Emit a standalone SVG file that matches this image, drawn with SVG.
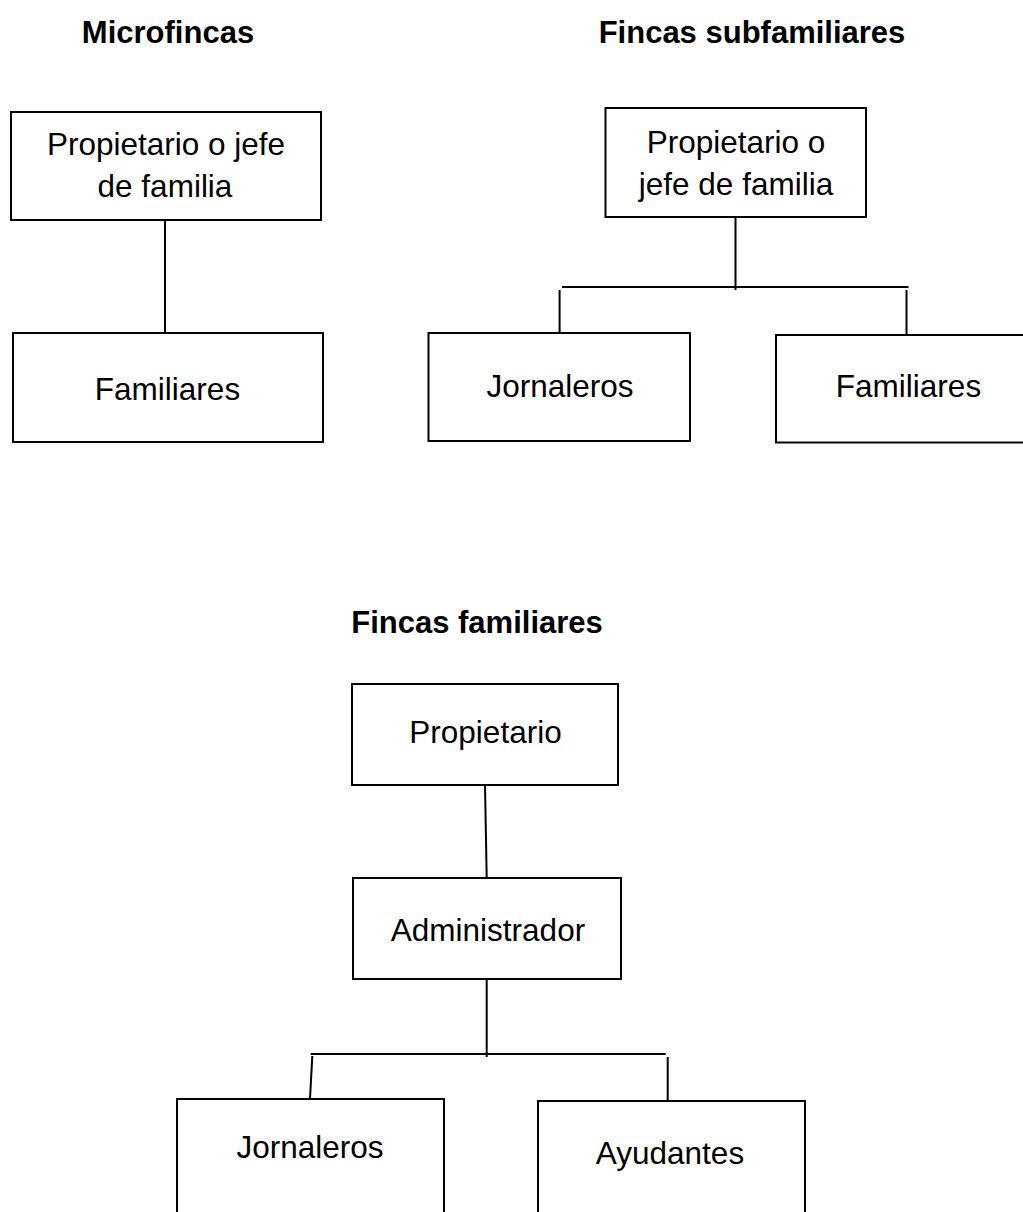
<svg xmlns="http://www.w3.org/2000/svg" width="1023" height="1212" viewBox="0 0 1023 1212">
  <style>
    .box { fill: #ffffff; stroke: #000000; stroke-width: 2; }
    .link { fill: none; stroke: #000000; stroke-width: 2; }
    .lbl { font-family: "Liberation Sans", Arial, sans-serif; font-size: 31.5px; fill: #000000; text-anchor: middle; }
    .ttl { font-family: "Liberation Sans", Arial, sans-serif; font-size: 31px; font-weight: bold; fill: #000000; text-anchor: middle; }
  </style>
  <rect width="1023" height="1212" fill="#ffffff"/>

  <!-- section titles -->
  <g id="titles">
    <text class="ttl" x="168" y="43">Microfincas</text>
    <text class="ttl" x="752" y="43">Fincas subfamiliares</text>
    <text class="ttl" x="477" y="633">Fincas familiares</text>
  </g>

  <!-- connectors -->
  <g id="connectors">
    <!-- microfincas -->
    <line class="link" x1="165" y1="220" x2="165" y2="333"/>
    <!-- fincas subfamiliares -->
    <line class="link" x1="735.5" y1="217" x2="735.5" y2="290"/>
    <line class="link" x1="562" y1="287" x2="908.5" y2="287"/>
    <line class="link" x1="559.6" y1="290" x2="559.6" y2="333"/>
    <line class="link" x1="906.5" y1="290" x2="906.5" y2="335"/>
    <!-- fincas familiares -->
    <line class="link" x1="485" y1="785" x2="486.7" y2="878"/>
    <line class="link" x1="486.7" y1="979" x2="486.7" y2="1057"/>
    <line class="link" x1="310.7" y1="1054" x2="665.7" y2="1054"/>
    <line class="link" x1="312.3" y1="1056" x2="310" y2="1099"/>
    <line class="link" x1="667.7" y1="1057" x2="667.7" y2="1101"/>
  </g>

  <!-- microfincas -->
  <g id="mf-propietario">
    <rect class="box" x="11" y="112" width="310" height="108"/>
    <text class="lbl" x="166" y="155">Propietario o jefe</text>
    <text class="lbl" x="165" y="197">de familia</text>
  </g>
  <g id="mf-familiares">
    <rect class="box" x="13" y="333" width="310" height="109"/>
    <text class="lbl" x="167.5" y="400">Familiares</text>
  </g>

  <!-- fincas subfamiliares -->
  <g id="sf-propietario">
    <rect class="box" x="605.5" y="108" width="260.5" height="109"/>
    <text class="lbl" x="736" y="153">Propietario o</text>
    <text class="lbl" x="736" y="195">jefe de familia</text>
  </g>
  <g id="sf-jornaleros">
    <rect class="box" x="428.5" y="333" width="261.5" height="108"/>
    <text class="lbl" x="560" y="397">Jornaleros</text>
  </g>
  <g id="sf-familiares">
    <rect class="box" x="776" y="335" width="260" height="107.5"/>
    <text class="lbl" x="908.5" y="397">Familiares</text>
  </g>

  <!-- fincas familiares -->
  <g id="ff-propietario">
    <rect class="box" x="352" y="684" width="266" height="101"/>
    <text class="lbl" x="485.5" y="743">Propietario</text>
  </g>
  <g id="ff-administrador">
    <rect class="box" x="353" y="878" width="268" height="101"/>
    <text class="lbl" x="488" y="941">Administrador</text>
  </g>
  <g id="ff-jornaleros">
    <rect class="box" x="177" y="1099" width="267" height="140"/>
    <text class="lbl" x="310" y="1158">Jornaleros</text>
  </g>
  <g id="ff-ayudantes">
    <rect class="box" x="538" y="1101" width="267" height="140"/>
    <text class="lbl" x="670" y="1164">Ayudantes</text>
  </g>
</svg>
